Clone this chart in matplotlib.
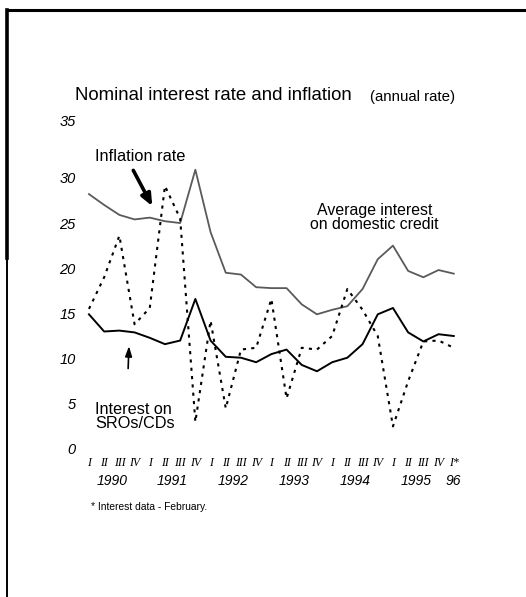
# Nominal interest rate and inflation, quarterly 1990 - 1996 Q1
import matplotlib.pyplot as plt
import numpy as np

quarters = ["I", "II", "III", "IV"] * 6 + ["I*"]
years = ["1990", "1991", "1992", "1993", "1994", "1995", "96"]

credit = [28.2, 27.0, 25.9, 25.4, 25.6, 25.2, 25.0, 30.9, 24.0, 19.5, 19.3, 17.9,
          17.8, 17.8, 16.0, 14.9, 15.4, 15.8, 17.7, 21.0, 22.5, 19.7, 19.0, 19.8, 19.4]
sro_cd = [14.9, 13.0, 13.1, 12.9, 12.3, 11.6, 12.0, 16.6, 12.0, 10.2, 10.1, 9.6,
          10.5, 11.0, 9.3, 8.6, 9.6, 10.1, 11.6, 14.9, 15.6, 12.9, 11.9, 12.7, 12.5]
inflation = [15.5, 19.0, 23.6, 13.8, 15.6, 29.1, 25.5, 3.0, 14.2, 4.5, 11.0, 11.2,
             16.6, 5.6, 11.2, 11.0, 12.5, 17.7, 15.4, 12.5, 2.5, 7.5, 11.9, 12.0, 11.2]

x = np.arange(len(quarters))
W, H = 526, 597

fig = plt.figure(figsize=(W / 100, H / 100), dpi=100)
ax = fig.add_axes([80 / W, (H - 449) / H, 385 / W, 329 / H])

ax.plot(x, credit, color='#5a5a5a', lw=1.3)
ax.plot(x, sro_cd, color='black', lw=1.4)
ax.plot(x, inflation, color='black', lw=1.5, linestyle=(0, (1.5, 2.5)))

ax.set_xlim(-0.59, 24.74)
ax.set_ylim(0, 36.4)
ax.set_yticks([0, 5, 10, 15, 20, 25, 30])
ax.set_yticklabels(["0", "5", "10", "15", "20", "25", "30"],
                   fontstyle='italic', family='Liberation Sans', fontsize=10.5)
# the "35" label sits a bit higher than the regular spacing in the original
ax.text(-0.011, 36.2, "35", transform=ax.get_yaxis_transform(), ha='right', va='center',
        fontstyle='italic', family='Liberation Sans', fontsize=10.5, clip_on=False)
ax.set_xticks(x)
ax.set_xticklabels(quarters, fontstyle='italic', family='Liberation Serif', fontsize=8.5)
ax.tick_params(length=0, axis='y', pad=3)
ax.tick_params(length=0, axis='x', pad=6)
for s in ax.spines.values():
    s.set_visible(False)

# year labels under the quarter labels
for k, yr in enumerate(years):
    xc = 1.5 + 4 * k if k < 6 else 24
    ax.text(xc, -3.5, yr, ha='center', va='center', fontstyle='italic',
            family='Liberation Sans', fontsize=10, clip_on=False)

# annotations
ax.annotate("", xy=(4.25, 26.6), xytext=(2.83, 31.1),
            arrowprops=dict(arrowstyle='-|>,head_width=0.3,head_length=0.7',
                            color='black', lw=2.6))
ax.text(0.39, 32.4, "Inflation rate", fontsize=11.8, family='Liberation Sans', va='center')
ax.annotate("", xy=(2.64, 11.7), xytext=(2.57, 8.6),
            arrowprops=dict(arrowstyle='-|>,head_width=0.2,head_length=0.6',
                            color='black', lw=1.2))
ax.text(0.39, 3.6, "Interest on\nSROs/CDs", fontsize=11.7, family='Liberation Sans',
        va='center', linespacing=0.95)
ax.text(18.8, 25.6, "Average interest\non domestic credit", fontsize=11.4,
        family='Liberation Sans', ha='center', va='center', linespacing=0.95)

fig.text(75 / W, 1 - 96 / H, "Nominal interest rate and inflation", fontsize=13.4,
         family='Liberation Sans', va='center')
fig.text(370 / W, 1 - 97 / H, "(annual rate)", fontsize=10.8,
         family='Liberation Sans', va='center')
fig.text(91 / W, 1 - 507 / H, "* Interest data - February.", fontsize=7.4,
         family='Liberation Sans', va='center')

# scanned frame: top and left edges
fig.add_artist(plt.Line2D([7 / W, 1], [1 - 10 / H, 1 - 10 / H], color='black', lw=2.2,
                          transform=fig.transFigure))
fig.add_artist(plt.Line2D([7 / W, 7 / W], [1 - 10 / H, 1 - 258 / H], color='black', lw=2.6,
                          transform=fig.transFigure))
fig.add_artist(plt.Line2D([7 / W, 7 / W], [1 - 258 / H, 0], color='black', lw=1.4,
                          transform=fig.transFigure))

fig.savefig("out.png", dpi=100)
